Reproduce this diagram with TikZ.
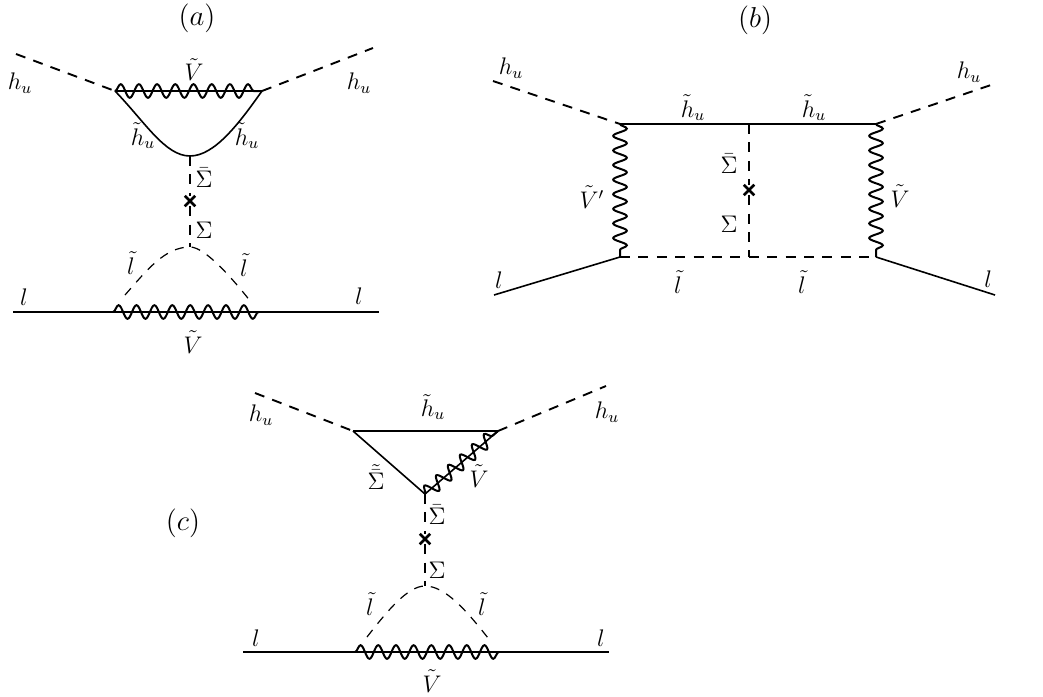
\documentclass[tikz,border=0pt]{standalone}
\usepackage{amsmath}
\usepackage{amssymb}
\usepackage{xcolor}
\usepackage{tikz}
\usetikzlibrary{decorations.pathmorphing, shapes.misc}
\tikzset{
	fermion/.style ={line width=0.8pt},
	scalar/.style  ={line width=0.95pt, dash pattern=on 5pt off 4.2pt},
	sloop/.style   ={line width=0.6pt, dash pattern=on 4.5pt off 4pt},
	gaugino/.style ={line width=1pt, decorate, decoration={snake, amplitude=3.4pt, segment length=#1, post length=0pt}},
	gaugino/.default=9pt,
	crossing/.style={cross out, draw=black, line width=1.25pt, minimum size=4pt, inner sep=0pt},
	lbl/.style     ={inner sep=0pt, font=\large},
	tag/.style     ={inner sep=0pt, font=\Large},
}
\begin{document}
\begin{tikzpicture}[x=0.5pt, y=-0.5pt]
	\useasboundingbox (0,0) rectangle (1043,696);
	\node[tag] (ta) at (197,18) {$(a)$};
	\node[tag] (tb) at (755,20) {$(b)$};
	\node[tag] (tc) at (183,523) {$(c)$};
	% diagram a
	\coordinate (a1) at (16,54);
	\coordinate (a2) at (373,48);
	\coordinate (av) at (115,91);
	\coordinate (aw) at (262,91);
	\coordinate (ab) at (190,156);
	\coordinate (at) at (190,247);
	\coordinate (al) at (13,312);
	\coordinate (ar) at (379,312);
	\coordinate (ap) at (113,312);
	\coordinate (aq) at (259,312);
	\coordinate (as) at (125,295);
	\coordinate (au) at (251,302);
	\node[crossing] (ax) at (190,201) {};
	\draw[scalar] (a1) -- (av);
	\draw[scalar] (aw) -- (a2);
	\draw[fermion] (av) -- (aw);
	\draw[gaugino=9.1pt] (av) -- (aw);
	\draw[fermion] (av) .. controls (145,122) and (165,156) .. (ab) .. controls (215,156) and (240,122) .. (aw);
	\draw[scalar] (ab) -- (ax);
	\draw[scalar] (ax) -- (at);
	\draw[sloop] (as) .. controls (147,270) and (165,247) .. (at) .. controls (205,247) and (232,278) .. (au);
	\draw[fermion] (al) -- (ar);
	\draw[gaugino=8.95pt] (ap) -- (aq);
	\node[lbl] (a3) at (20,83) {$h_u$};
	\node[lbl] (a4) at (359,83) {$h_u$};
	\node[lbl] (a5) at (194,70) {$\tilde{V}$};
	\node[lbl] (a6) at (143,136) {$\tilde{h}_u$};
	\node[lbl] (a7) at (247,136) {$\tilde{h}_u$};
	\node[lbl] (a8) at (204,178) {$\bar{\Sigma}$};
	\node[lbl] (a9) at (204,230) {$\Sigma$};
	\node[lbl] (a10) at (131,263) {$\tilde{l}$};
	\node[lbl] (a11) at (244,265) {$\tilde{l}$};
	\node[lbl] (a12) at (24,297) {$l$};
	\node[lbl] (a13) at (359,296) {$l$};
	\node[lbl] (a14) at (193,342) {$\tilde{V}$};
	% diagram b
	\coordinate (b1) at (493,81);
	\coordinate (b2) at (994,84);
	\coordinate (b3) at (494,295);
	\coordinate (b4) at (995,295);
	\coordinate (bv) at (620,124);
	\coordinate (bw) at (876,124);
	\coordinate (bm) at (749,124);
	\coordinate (bp) at (620,257);
	\coordinate (bq) at (876,257);
	\coordinate (bn) at (749,257);
	\node[crossing] (bx) at (749,190) {};
	\draw[scalar] (b1) -- (bv);
	\draw[scalar] (bw) -- (b2);
	\draw[fermion] (bv) -- (bw);
	\draw[scalar] (bm) -- (bx);
	\draw[scalar] (bx) -- (bn);
	\draw[scalar] (bp) -- (bq);
	\draw[gaugino=7.3pt] (bv) -- (bp);
	\draw[gaugino=7.3pt] (bw) -- (bq);
	\draw[fermion] (b3) -- (bp);
	\draw[fermion] (bq) -- (b4);
	\node[lbl] (b5) at (511,68) {$h_u$};
	\node[lbl] (b6) at (969,72) {$h_u$};
	\node[lbl] (b7) at (693,108) {$\tilde{h}_u$};
	\node[lbl] (b8) at (814,108) {$\tilde{h}_u$};
	\node[lbl] (b9) at (729,164) {$\bar{\Sigma}$};
	\node[lbl] (b10) at (729,224) {$\Sigma$};
	\node[lbl] (b11) at (592,197) {$\tilde{V}'$};
	\node[lbl] (b12) at (900,196) {$\tilde{V}$};
	\node[lbl] (b13) at (678,282) {$\tilde{l}$};
	\node[lbl] (b14) at (802,282) {$\tilde{l}$};
	\node[lbl] (b15) at (499,280) {$l$};
	\node[lbl] (b16) at (988,279) {$l$};
	% diagram c
	\coordinate (c1) at (255,393);
	\coordinate (c2) at (606,386);
	\coordinate (cv) at (353,431);
	\coordinate (cw) at (498,431);
	\coordinate (cb) at (425,494);
	\coordinate (ct) at (425,586);
	\coordinate (cl) at (243,652);
	\coordinate (cr) at (609,652);
	\coordinate (cp) at (355,652);
	\coordinate (cq) at (499,652);
	\coordinate (cs) at (367,637);
	\coordinate (cu) at (488,638);
	\node[crossing] (cx) at (425,539) {};
	\draw[scalar] (c1) -- (cv);
	\draw[scalar] (cw) -- (c2);
	\draw[fermion] (cv) -- (cw);
	\draw[fermion] (cv) -- (cb);
	\draw[fermion] (cb) -- (cw);
	\draw[gaugino=7.9pt] (cb) -- (cw);
	\draw[scalar] (cb) -- (cx);
	\draw[scalar] (cx) -- (ct);
	\draw[sloop] (cs) .. controls (388,610) and (408,586) .. (ct) .. controls (445,586) and (466,610) .. (cu);
	\draw[fermion] (cl) -- (cr);
	\draw[gaugino=8.85pt] (cp) -- (cq);
	\node[lbl] (c3) at (261,415) {$h_u$};
	\node[lbl] (c4) at (607,412) {$h_u$};
	\node[lbl] (c5) at (433,407) {$\tilde{h}_u$};
	\node[lbl] (c6) at (376,477) {$\tilde{\bar{\Sigma}}$};
	\node[lbl] (c7) at (479,476) {$\tilde{V}$};
	\node[lbl] (c8) at (437,515) {$\bar{\Sigma}$};
	\node[lbl] (c9) at (437,570) {$\Sigma$};
	\node[lbl] (c10) at (370,604) {$\tilde{l}$};
	\node[lbl] (c11) at (482,604) {$\tilde{l}$};
	\node[lbl] (c12) at (256,638) {$l$};
	\node[lbl] (c13) at (601,638) {$l$};
	\node[lbl] (c14) at (432,681) {$\tilde{V}$};
\end{tikzpicture}
\end{document}
